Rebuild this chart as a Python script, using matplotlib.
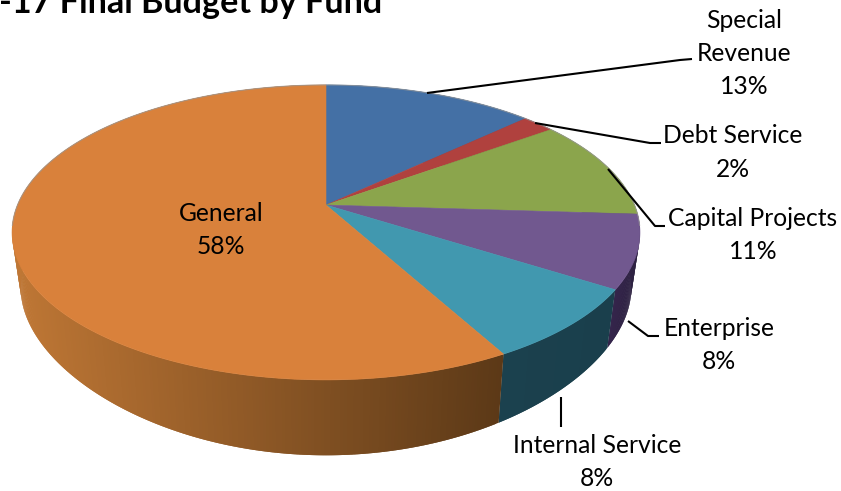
import numpy as np
import matplotlib
matplotlib.use("Agg")
import matplotlib.pyplot as plt
from matplotlib.collections import PolyCollection
from matplotlib.colors import to_rgb

plt.rcParams["font.family"] = ["Lato", "DejaVu Sans"]

# Budget shares, listed clockwise from twelve o'clock
categories = ["Special\nRevenue", "Debt Service", "Capital Projects", "Enterprise", "Internal Service", "General"]
shares = [13, 2, 11, 8, 8, 58]
title_text = "-17 Final Budget by Fund"

top_colors = ["#4470a5", "#b0413e", "#8ba54c", "#71588f", "#4198af", "#d9813b"]
# wall shade at each slice's left and right ends, spread across its horizontal extent
wall_colors = [("#2c4a6c", "#2c4a6c"), ("#6f2a28", "#6f2a28"), ("#4c5c2a", "#3f4c23"),
               ("#35254c", "#2c2140"), ("#1b414e", "#1a3f4c"), ("#bf7735", "#5c3917")]

label_pos = [(744, 53.5), (733, 152.5), (753, 235), (719, 345), (597, 462), (221, 230)]
leaders = [[(427, 93), (680, 60), (692, 59)],
           [(535, 123), (650, 143), (661, 143)],
           [(608, 169), (655, 226), (665, 226)],
           [(628, 321), (648, 336), (659, 336)],
           [(561, 397), (561, 427)]]


def project_top(theta):
    """Unit-circle angle (radians) to the upper face of the tilted disc."""
    x, y = np.cos(theta), np.sin(theta)
    d = 1 + 0.186 * y
    return 326 + 308.5 * x / d, 205 - 142.4 * y / d


def project_bottom(theta):
    """Same angle on the lower rim of the disc."""
    x, y = np.cos(theta), np.sin(theta)
    return 326 + 300 * x / (1 + 0.186 * y), 261 - 136 * y / (1 + 0.3 * y)


fig = plt.figure(figsize=(8.41, 4.91), dpi=100)
ax = fig.add_axes([0, 0, 1, 1])
ax.set_xlim(0, 841)
ax.set_ylim(491, 0)
ax.axis("off")

fractions = np.asarray(shares, dtype=float) / sum(shares)
edges = np.pi / 2 - 2 * np.pi * np.concatenate([[0], np.cumsum(fractions)])

# side wall: overlapping quads shaded by horizontal position, drawn before the top face
for start, end, (c0, c1) in zip(edges[:-1], edges[1:], wall_colors):
    n = max(int(abs(end - start) / np.radians(0.5)), 2)
    ts = np.linspace(start, end, n + 1)
    xa, ya = project_top(ts)
    xb, yb = project_bottom(ts)
    c0, c1 = np.array(to_rgb(c0)), np.array(to_rgb(c1))
    span = max(xa.max() - xa.min(), 1.0)
    quads, shades = [], []
    for i in range(n):
        j = min(i + 2, n)
        quads.append(np.column_stack([[xa[i], xa[j], xb[j], xb[i]], [ya[i], ya[j], yb[j], yb[i]]]))
        shades.append(c0 + (c1 - c0) * (xa[i] - xa.min()) / span)
    ax.add_collection(PolyCollection(quads, facecolors=shades, edgecolors="none", zorder=1))

# top face, one filled sector per share
for start, end, color in zip(edges[:-1], edges[1:], top_colors):
    xs, ys = project_top(np.linspace(start, end, 200))
    ax.fill(np.r_[326, xs], np.r_[205, ys], facecolor=color, edgecolor=color, linewidth=0.4, zorder=2)

# faint rim around the back of the disc
ax.plot(*project_top(np.linspace(np.radians(-8), np.radians(188), 400)),
        color="#9a9a9a", lw=0.8, alpha=0.7, zorder=3)

for pts in leaders:
    xs, ys = zip(*pts)
    ax.plot(xs, ys, color="black", lw=1.5, zorder=4, solid_capstyle="butt")

for name, share, (x, y) in zip(categories, shares, label_pos):
    ax.text(x, y, f"{name}\n{share}%", ha="center", va="center", fontsize=17.7,
            linespacing=1.53, color="black", zorder=5)

ax.text(-1, 12.5, title_text, ha="left", va="baseline", fontsize=24.6, fontweight="bold",
        color="black", clip_on=True, zorder=5)

fig.savefig("out.png", dpi=100)
